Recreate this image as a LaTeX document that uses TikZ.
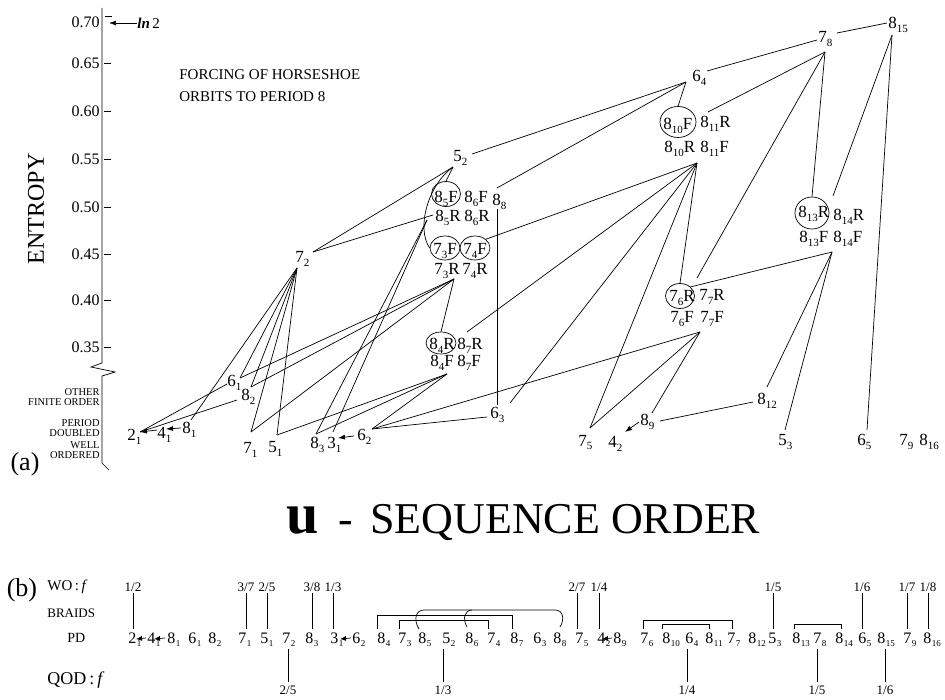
\documentclass[tikz,border=0pt]{standalone}
\usepackage{fontspec}
\setmainfont{Liberation Serif}
\usetikzlibrary{arrows.meta,shapes.geometric}
% orbit label with a lowered subscript
\newcommand\ix[2]{#1\raisebox{-4pt}{\fontsize{11}{11}\selectfont #2}}
\newcommand\iy[2]{#1\kern0.6pt\raisebox{-3pt}{\fontsize{9}{9}\selectfont #2}}
\begin{document}
\begin{tikzpicture}[x=1pt,y=-1pt,line width=0.7pt,
  lab/.style={inner sep=0pt,anchor=base west,font=\fontsize{17}{17}\selectfont},
  seq/.style={inner sep=0pt,anchor=base west,font=\fontsize{16}{16}\selectfont},
  frac/.style={inner sep=0pt,font=\fontsize{13}{13}\selectfont},
  ring/.style={draw,ellipse,inner sep=0pt},
  tip/.style={-{Latex[length=7pt,width=5pt]}},
  tipb/.style={-{Latex[length=6pt,width=5pt]}},
  cat/.style={inner sep=0pt,anchor=east,font=\fontsize{10.5}{10.5}\selectfont},
]
\useasboundingbox (0,0) rectangle (945,700);

% ---------- entropy axis ----------
\draw (102,8) -- (102,363) -- (91,367) -- (115,372) -- (102,376) -- (102,463) -- (109,470);
\draw (105,16) -- (112,16);
\foreach \y in {63,111,159,207,254,300,347} \draw (104,\y) -- (111,\y);
\foreach \v/\y in {0.70/22,0.65/63,0.60/111,0.55/159,0.50/207,0.45/254,0.40/300,0.35/347}
  \node[inner sep=0pt,anchor=east,font=\fontsize{16}{16}\selectfont] at (100,\y) {\v};
\node[inner sep=0pt,anchor=west,font=\fontsize{15}{15}\selectfont] (ln2) at (137,23) {\textbf{\textit{ln}}\,2};
\coordinate (lnp) at (109,23);
\draw[tip] (ln2.west) -- (lnp);
\node[rotate=90,font=\fontsize{24}{24}\selectfont] at (36,209) {ENTROPY};
\node[cat] at (100,392) {OTHER};
\node[cat] at (100,402.5) {FINITE ORDER};
\node[cat] at (100,423.5) {PERIOD};
\node[cat] at (100,433.5) {DOUBLED};
\node[cat] at (100,445) {WELL};
\node[cat] at (100,455.5) {ORDERED};
\node[font=\fontsize{26}{26}\selectfont] at (25,464) {(a)};
\node[inner sep=0pt,anchor=base west,font=\fontsize{15}{15}\selectfont] (t1) at (179,80) {FORCING OF HORSESHOE};
\node[inner sep=0pt,anchor=base west,font=\fontsize{15}{15}\selectfont] (t2) at (179,102) {ORBITS TO PERIOD 8};

% ---------- orbit labels ----------
\node[lab] (n21) at (127,440) {\ix{2}{1}};
\node[lab] (n41) at (157,438) {\ix{4}{1}};
\node[lab] (n81) at (182,433) {\ix{8}{1}};
\node[lab] (n61) at (227,387) {\ix{6}{1}};
\node[lab] (n82) at (241,401) {\ix{8}{2}};
\node[lab] (n72) at (295,263) {\ix{7}{2}};
\node[lab] (n71) at (243,453) {\ix{7}{1}};
\node[lab] (n51) at (268,452) {\ix{5}{1}};
\node[lab] (n83) at (310,448) {\ix{8}{3}};
\node[lab] (n31) at (327,448) {\ix{3}{1}};
\node[lab] (n62) at (357,440) {\ix{6}{2}};
\node[lab] (n52) at (453,162) {\ix{5}{2}};
\node[lab] (n88) at (492,206) {\ix{8}{8}};
\node[lab] (n63) at (490,418) {\ix{6}{3}};
\node[lab] (n75) at (578,446) {\ix{7}{5}};
\node[lab] (n42) at (608,447) {\ix{4}{2}};
\node[lab] (n89) at (640,425) {\ix{8}{9}};
\node[lab] (n812) at (757,405) {\ix{8}{12}};
\node[lab] (n53) at (778,445) {\ix{5}{3}};
\node[lab] (n65) at (857,445) {\ix{6}{5}};
\node[lab] (n79) at (899,445) {\ix{7}{9}};
\node[lab] (n816) at (919,445) {\ix{8}{16}};
\node[lab] (n64) at (692,82) {\ix{6}{4}};
\node[lab] (n78) at (818,43) {\ix{7}{8}};
\node[lab] (n815) at (888,29) {\ix{8}{15}};

\node[lab] (g85f) at (434,203) {\ix{8}{5}F};
\node[lab] (g86f) at (464,203) {\ix{8}{6}F};
\node[lab] (g85r) at (435,222) {\ix{8}{5}R};
\node[lab] (g86r) at (464,222) {\ix{8}{6}R};
\node[lab] (g73f) at (433,255) {\ix{7}{3}F};
\node[lab] (g74f) at (463,255) {\ix{7}{4}F};
\node[lab] (g73r) at (434,275) {\ix{7}{3}R};
\node[lab] (g74r) at (462,275) {\ix{7}{4}R};
\node[lab] (g84r) at (429,350) {\ix{8}{4}R};
\node[lab] (g87r) at (457,350) {\ix{8}{7}R};
\node[lab] (g84f) at (430,367) {\ix{8}{4}F};
\node[lab] (g87f) at (457,367) {\ix{8}{7}F};
\node[lab] (g810f) at (663,130) {\ix{8}{10}F};
\node[lab] (g811r) at (700,128) {\ix{8}{11}R};
\node[lab] (g810r) at (664,153) {\ix{8}{10}R};
\node[lab] (g811f) at (700,153) {\ix{8}{11}F};
\node[lab] (g76r) at (669,302) {\ix{7}{6}R};
\node[lab] (g77r) at (699,301) {\ix{7}{7}R};
\node[lab] (g76f) at (670,323) {\ix{7}{6}F};
\node[lab] (g77f) at (700,323) {\ix{7}{7}F};
\node[lab] (g813r) at (798,218) {\ix{8}{13}R};
\node[lab] (g814r) at (833,221) {\ix{8}{14}R};
\node[lab] (g813f) at (799,243) {\ix{8}{13}F};
\node[lab] (g814f) at (833,243) {\ix{8}{14}F};

% circled orbits
\node[ring,minimum width=29pt,minimum height=25pt] (e85) at (446,194) {};
\node[ring,minimum width=30pt,minimum height=24pt] (e73) at (445,248) {};
\node[ring,minimum width=30pt,minimum height=24pt] (e74) at (475,248) {};
\node[ring,minimum width=30pt,minimum height=22pt] (e84) at (441,343) {};
\node[ring,minimum width=36pt,minimum height=31pt] (e810) at (678,122) {};
\node[ring,minimum width=29pt,minimum height=25pt] (e76) at (680,296) {};
\node[ring,minimum width=34pt,minimum height=32pt] (e813) at (812,213) {};

% junction points below labels
\coordinate (v72) at (297,268);
\coordinate (v52) at (453,167);
\coordinate (v73) at (454,279);
\coordinate (v84) at (447,374);
\coordinate (v810) at (697,163);
\coordinate (v77) at (700,332);
\coordinate (v814) at (832,252);
\coordinate (v78) at (825,52);
\coordinate (v815) at (892,35);
\coordinate (v64) at (686,82);

% attachment points on labels
\coordinate (a21) at (140,432);
\coordinate (a41) at (157,430);
\coordinate (a41t) at (166,429);
\coordinate (a81) at (181,428);
\coordinate (a81t) at (191,420);
\coordinate (a61l) at (227,384);
\coordinate (a61r) at (240,378);
\coordinate (a82l) at (237,400);
\coordinate (a82r) at (251,387);
\coordinate (a71) at (251,432);
\coordinate (a51) at (277,435);
\coordinate (a83) at (316,434);
\coordinate (a31) at (333,432);
\coordinate (a31r) at (338,438);
\coordinate (a62l) at (354,436);
\coordinate (a62) at (372,429);
\coordinate (a63l) at (487,417);
\coordinate (a63t) at (497,405);
\coordinate (a63r) at (510,403);
\coordinate (a88t) at (497,188);
\coordinate (a88b) at (497,209);
\coordinate (a52r) at (472,154);
\coordinate (a72r) at (313,252);
\coordinate (a85r) at (433,215);
\coordinate (a85x) at (427,220);
\coordinate (a87r) at (467,332);
\coordinate (a75) at (590,428);
\coordinate (a42r) at (625,432);
\coordinate (a89l) at (639,422);
\coordinate (a89r) at (660,421);
\coordinate (a89t) at (652,413);
\coordinate (a812l) at (753,402);
\coordinate (a812t) at (767,387);
\coordinate (a53t) at (785,430);
\coordinate (a65t) at (867,430);
\coordinate (a811r) at (708,112);
\coordinate (a77r) at (697,278);
\coordinate (a814r) at (833,196);
\coordinate (a64r) at (707,71);
\coordinate (a78l) at (817,40);
\coordinate (a78r) at (837,33);
\coordinate (a815l) at (887,23);

% forcing connectors
\draw (v72) -- (a81t);
\draw (v72) -- (a61r);
\draw (v72) -- (a82r);
\draw (v72) -- (a71);
\draw (v72) -- (a51);
\draw (a72r) -- (v52);
\draw (a72r) -- (a85r);
\draw (a21) -- (a61l);
\draw (a21) -- (a82l);
\draw (a61r) -- (v73);
\draw (a82r) -- (v73);
\draw (a71) -- (v73);
\draw (a51) -- (v84);
\draw (a83) -- (a85x);
\draw (a31) -- (a85x);
\draw (a83) -- (v84);
\draw (a62) -- (v84);
\draw (a62) -- (a63l);
\draw (a62) -- (v77);
\draw (v52) -- (e85.north);
\draw (v52) .. controls (428,185) and (416,228) .. (e73.west);
\draw (a52r) -- (v64);
\draw (a88t) -- (v64);
\draw (a88b) -- (a63t);
\draw (e74.north east) -- (v810);
\draw (a87r) -- (v810);
\draw (a63r) -- (v810);
\draw (a75) -- (v810);
\draw (v73) -- (e84.north);
\draw (v64) -- (e810.north);
\draw (a64r) -- (a78l);
\draw (a78r) -- (a815l);
\draw (v78) -- (a811r);
\draw (v78) -- (a77r);
\draw (v78) -- (e813.north);
\draw (v815) -- (a814r);
\draw (v815) -- (a65t);
\draw (v810) -- (e76.north);
\draw (v814) -- (e76.north east);
\draw (v814) -- (a812t);
\draw (v814) -- (a53t);
\draw (v77) -- (a75);
\draw (v77) -- (a89t);
\draw (a89r) -- (a812l);

% period-doubling arrows
\draw[tip] (a41) -- (a21);
\draw[tip] (a81) -- (a41t);
\draw[tip] (a62l) -- (a31r);
\draw[tip] (a89l) -- (a42r);

% ---------- u-sequence order ----------
\node[inner sep=0pt,anchor=base west,font=\fontsize{58}{58}\selectfont\bfseries] (uu) at (286,533) {u};
\node[inner sep=0pt,anchor=base,font=\fontsize{44}{44}\selectfont] (dash) at (346,533) {-};
\node[inner sep=0pt,anchor=base west,font=\fontsize{44}{44}\selectfont] (sq) at (370,533) {SEQUENCE ORDER};

\node[font=\fontsize{26}{26}\selectfont] at (22,590) {(b)};
\node[inner sep=0pt,anchor=west,font=\fontsize{15}{15}\selectfont] at (47,587) {WO\,:\,\textit{f}};
\node[inner sep=0pt,anchor=west,font=\fontsize{13}{13}\selectfont] at (47,613) {BRAIDS};
\node[inner sep=0pt,anchor=west,font=\fontsize{14}{14}\selectfont] at (67,638) {PD};
\node[inner sep=0pt,anchor=west,font=\fontsize{18}{18}\selectfont] at (47,680) {QOD\,:\,\textit{f}};

\foreach \x/\a/\b [count=\i] in {128/2/1,147/4/1,167/8/1,188/6/1,208/8/2,238/7/1,260/5/1,282/7/2,305/8/3,
  330/3/1,352/6/2,377/8/4,398/7/3,418/8/5,442/5/2,465/8/6,487/7/4,510/8/7,533/6/3,553/8/8,575/7/5,
  597/4/2,613/8/9,640/7/6,662/8/10,685/6/4,705/8/11,727/7/7,748/8/12,768/5/3,792/8/13,813/7/8,
  835/8/14,858/6/5,877/8/15,903/7/9,923/8/16}
  \node[seq] (s\i) at (\x,643) {\iy{\a}{\b}};

\coordinate (b41) at (146,638); \coordinate (b21) at (136,639);
\coordinate (b81) at (165,638); \coordinate (b41t) at (154,639);
\coordinate (b62) at (351,638); \coordinate (b31) at (340,639);
\coordinate (b89) at (612,638); \coordinate (b42) at (602,639);
\draw[tipb] (b41) -- (b21);
\draw[tipb] (b81) -- (b41t);
\draw[tipb] (b62) -- (b31);
\draw[tipb] (b89) -- (b42);

\foreach \x/\a/\b in {133/1/2,246/3/7,267/2/5,312/3/8,333/1/3,577/2/7,599/1/4,773/1/5,862/1/6,907/1/7,928/1/8}{
  \node[frac] (w) at (\x,587) {\a/\b};
  \draw (\x,593) -- (\x,629);
}
\foreach \x/\a/\b in {288/2/5,443/1/3,687/1/4,817/1/5,885/1/6}{
  \node[frac] (q) at (\x,690) {\a/\b};
  \draw (\x,649) -- (\x,682);
}

% braid brackets
\draw (377,629) -- (377,615) -- (512,615) -- (512,629);
\draw (399,629) -- (399,620) -- (488,620) -- (488,629);
\draw (419,629) .. controls (413,619) and (416,610) .. (424,610) -- (555,610)
      .. controls (563,610) and (565,619) .. (560,627);
\draw (467,627) .. controls (462,618) and (465,610) .. (472,610);
\draw (643,629) -- (643,620) -- (732,620) -- (732,629);
\draw (662,629) -- (662,624) -- (709,624) -- (709,629);
\draw (794,629) -- (794,624) -- (841,624) -- (841,629);
\end{tikzpicture}
\end{document}
